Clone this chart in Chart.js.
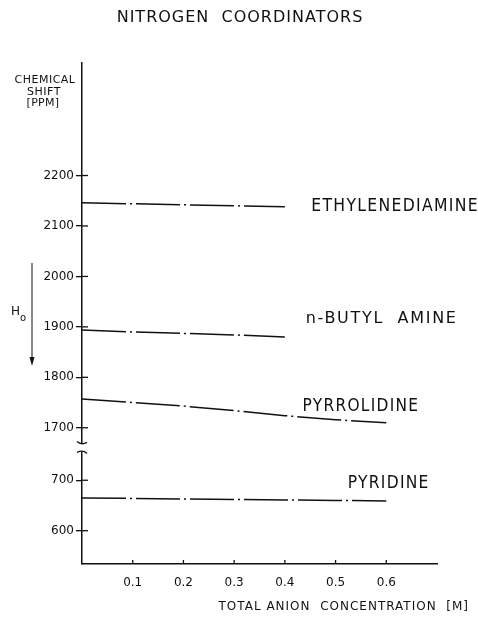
<!DOCTYPE html>
<html>
<head>
<meta charset="utf-8">
<script src="https://cdn.jsdelivr.net/npm/chart.js@4.4.1/dist/chart.umd.min.js"></script>
<style>
  html, body { margin: 0; padding: 0; background: #fff; }
</style>
</head>
<body>
<canvas id="myLineChat" width="478" height="618"></canvas>
<script>
var concentration = [0, 0.1, 0.2, 0.3, 0.4, 0.5, 0.6];
var ethylenediamine = [2146, 2144, 2142, 2140, 2138];
var butylAmine = [1894, 1890, 1887, 1884, 1880];
var pyrrolidine = [1757, 1750, 1743, 1734, 1724, 1716, 1710];
var pyridine = [665, 664, 663, 662, 661, 660, 659];

var xTicks = [0.1, 0.2, 0.3, 0.4, 0.5, 0.6];
var yTicksUpper = [1700, 1800, 1900, 2000, 2100, 2200];
var yTicksLower = [600, 700];

var seriesNames = ["ETHYLENEDIAMINE", "n-BUTYL  AMINE", "PYRROLIDINE", "PYRIDINE"];

// axis ranges (upper part of the broken axis, lower part)
var upperMin = 1661, upperMax = 2423;
var lowerMin = 534, lowerMax = 765;

function toPoints(vals) {
    var pts = [];
    for (var i = 0; i < vals.length; i++) {
        pts.push({ x: concentration[i], y: vals[i] });
    }
    return pts;
}

function fixTicks(list) {
    return function (scale) {
        scale.ticks = list.map(function (v) { return { value: v }; });
    };
}

var ink = "#111";
var dash = [44, 4, 2, 4];

function lineSet(label, vals, axis) {
    return {
        label: label,
        data: toPoints(vals),
        yAxisID: axis,
        borderColor: ink,
        borderWidth: 1.5,
        borderDash: dash,
        pointRadius: 0,
        tension: 0,
        fill: false
    };
}

function spaced(ctx, text, x, y, spacing) {
    ctx.letterSpacing = spacing + "px";
    ctx.fillText(text, x, y);
}

// tall, narrow lettering like the stencil labels
function narrow(ctx, text, x, y, size, sx, spacing) {
    ctx.save();
    ctx.translate(x, y);
    ctx.scale(sx, 1);
    ctx.font = size + "px 'DejaVu Sans'";
    ctx.textAlign = "left";
    ctx.textBaseline = "alphabetic";
    ctx.letterSpacing = spacing + "px";
    ctx.fillText(text, 0, 0);
    ctx.restore();
}

// extra drawing: title, inner tick halves, axis break, free text
var decorations = {
    id: "decorations",
    afterDraw: function (chart) {
        var ctx = chart.ctx;
        var x = chart.scales.x, yT = chart.scales.yTop, yB = chart.scales.yBottom;
        var left = chart.chartArea.left, bottom = chart.chartArea.bottom;
        ctx.save();
        ctx.strokeStyle = ink;
        ctx.fillStyle = ink;
        ctx.lineWidth = 1.3;

        // title
        ctx.font = "16px 'DejaVu Sans'";
        ctx.textAlign = "center";
        ctx.textBaseline = "middle";
        spaced(ctx, "NITROGEN  COORDINATORS", 240, 18, 1);

        // right half of the y ticks
        yTicksUpper.forEach(function (v) {
            var p = yT.getPixelForValue(v);
            ctx.beginPath(); ctx.moveTo(left, p); ctx.lineTo(left + 6, p); ctx.stroke();
        });
        yTicksLower.forEach(function (v) {
            var p = yB.getPixelForValue(v);
            ctx.beginPath(); ctx.moveTo(left, p); ctx.lineTo(left + 6, p); ctx.stroke();
        });
        // x ticks pointing up
        xTicks.forEach(function (v) {
            var p = x.getPixelForValue(v);
            ctx.beginPath(); ctx.moveTo(p, bottom); ctx.lineTo(p, bottom - 4); ctx.stroke();
        });

        // axis break
        var yb = yB.top;
        ctx.fillStyle = "#fff";
        ctx.fillRect(left - 3, yb - 4, 6, 8);
        ctx.fillStyle = ink;
        ctx.beginPath();
        ctx.moveTo(left - 5, yb - 6);
        ctx.quadraticCurveTo(left - 1, yb - 2, left + 5, yb - 5);
        ctx.stroke();
        ctx.beginPath();
        ctx.moveTo(left - 5, yb + 5);
        ctx.quadraticCurveTo(left + 1, yb + 2, left + 5, yb + 6);
        ctx.stroke();

        // series labels
        narrow(ctx, seriesNames[0], x.getPixelForValue(0.452), yT.getPixelForValue(2129), 18, 0.87, 1.5);
        narrow(ctx, seriesNames[1], x.getPixelForValue(0.441), yT.getPixelForValue(1907), 16, 1.0, 1.7);
        narrow(ctx, seriesNames[2], x.getPixelForValue(0.435), yT.getPixelForValue(1734), 18, 0.855, 1.5);
        narrow(ctx, seriesNames[3], x.getPixelForValue(0.524), yB.getPixelForValue(684), 18, 0.86, 1.5);

        // y axis title
        ctx.font = "11px 'DejaVu Sans'";
        ctx.textAlign = "center";
        ctx.textBaseline = "middle";
        spaced(ctx, "CHEMICAL", 45, 80, 0.5);
        spaced(ctx, "SHIFT", 44, 92, 0.5);
        spaced(ctx, "[PPM]", 43, 103, 0.3);

        // H0 with arrow
        ctx.letterSpacing = "0px";
        ctx.font = "12px 'DejaVu Sans'";
        ctx.textAlign = "left";
        ctx.fillText("H", 11, 312);
        ctx.font = "10px 'DejaVu Sans'";
        ctx.fillText("o", 20, 318);
        ctx.lineWidth = 1;
        ctx.beginPath(); ctx.moveTo(32, 263); ctx.lineTo(32, 358); ctx.stroke();
        ctx.beginPath();
        ctx.moveTo(29.5, 357); ctx.lineTo(34.5, 357); ctx.lineTo(32, 366); ctx.closePath();
        ctx.fill();

        // x axis title
        ctx.font = "12px 'DejaVu Sans'";
        ctx.textAlign = "right";
        spaced(ctx, "TOTAL ANION  CONCENTRATION  [M]", 469, 607, 1);
        ctx.restore();
    }
};

Chart.defaults.font.family = "'DejaVu Sans', sans-serif";
Chart.defaults.color = ink;

var ctx_line = document.getElementById("myLineChat");
var MyLineChart = new Chart(ctx_line, {
    type: "line",
    data: {
        datasets: [
            lineSet(seriesNames[0], ethylenediamine, "yTop"),
            lineSet(seriesNames[1], butylAmine, "yTop"),
            lineSet(seriesNames[2], pyrrolidine, "yTop"),
            lineSet(seriesNames[3], pyridine, "yBottom")
        ]
    },
    options: {
        responsive: false,
        animation: false,
        devicePixelRatio: 1,
        layout: { padding: { left: 0, right: 41, top: 63, bottom: 0 } },
        plugins: {
            legend: { display: false },
            tooltip: { enabled: false },
            title: { display: false }
        },
        scales: {
            x: {
                type: "linear",
                min: 0,
                max: 0.7,
                afterBuildTicks: fixTicks(xTicks),
                afterFit: function (s) { s.height = 54; },
                ticks: {
                    padding: 12,
                    font: { size: 12 },
                    callback: function (v) { return v.toFixed(1); }
                },
                grid: { display: true, drawOnChartArea: false, drawTicks: false },
                border: { display: true, color: ink, width: 1.5 }
            },
            yBottom: {
                type: "linear",
                position: "left",
                stack: "shift",
                stackWeight: lowerMax - lowerMin,
                min: lowerMin,
                max: lowerMax,
                afterBuildTicks: fixTicks(yTicksLower),
                afterFit: function (s) { s.width = 82; },
                ticks: { padding: 2, font: { size: 12 }, callback: function (v) { return String(v); } },
                grid: { drawOnChartArea: false, drawTicks: true, tickLength: 6, color: ink, lineWidth: 1.3 },
                border: { display: true, color: ink, width: 1.5 }
            },
            yTop: {
                type: "linear",
                position: "left",
                stack: "shift",
                stackWeight: upperMax - upperMin,
                min: upperMin,
                max: upperMax,
                afterBuildTicks: fixTicks(yTicksUpper),
                afterFit: function (s) { s.width = 82; },
                ticks: { padding: 2, font: { size: 12 }, callback: function (v) { return String(v); } },
                grid: { drawOnChartArea: false, drawTicks: true, tickLength: 6, color: ink, lineWidth: 1.3 },
                border: { display: true, color: ink, width: 1.5 }
            }
        }
    },
    plugins: [decorations]
});
</script>
</body>
</html>
